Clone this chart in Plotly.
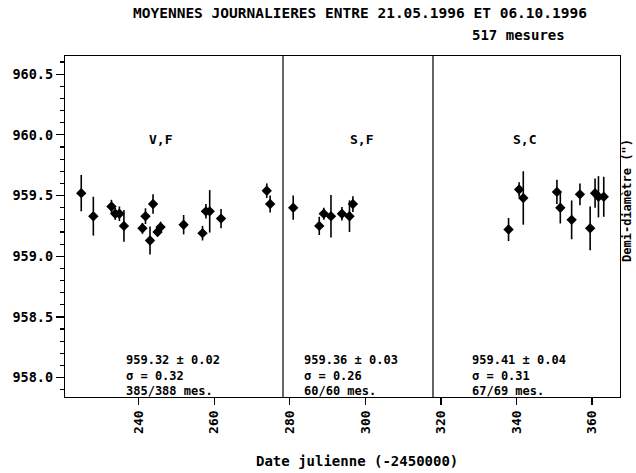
import plotly.graph_objects as go

# Panel V,F
vf_x = [224.8, 228.0, 232.8, 233.8, 234.9, 236.1, 241.0, 241.8, 243.0, 243.8, 245.0, 245.8, 251.9, 256.9, 257.8, 258.8, 261.8, 273.9, 274.8]
vf_y = [959.52, 959.33, 959.41, 959.35, 959.35, 959.25, 959.23, 959.33, 959.13, 959.43, 959.20, 959.24, 959.26, 959.19, 959.37, 959.37, 959.31, 959.54, 959.43]
vf_e = [0.15, 0.16, 0.055, 0.05, 0.06, 0.13, 0.045, 0.065, 0.115, 0.08, 0.03, 0.045, 0.08, 0.06, 0.06, 0.175, 0.08, 0.06, 0.07]
# Panel S,F
sf_x = [280.9, 287.8, 289.0, 290.9, 293.8, 295.8, 296.7]
sf_y = [959.40, 959.25, 959.35, 959.33, 959.35, 959.33, 959.43]
sf_e = [0.10, 0.075, 0.05, 0.175, 0.055, 0.13, 0.065]
# Panel S,C
sc_x = [337.9, 340.7, 341.8, 350.7, 351.6, 354.6, 356.8, 359.5, 360.8, 361.7, 363.1]
sc_y = [959.22, 959.55, 959.48, 959.53, 959.40, 959.30, 959.51, 959.23, 959.52, 959.49, 959.49]
sc_e = [0.095, 0.06, 0.22, 0.10, 0.13, 0.16, 0.09, 0.18, 0.12, 0.17, 0.165]

panel_names = ["V,F", "S,F", "S,C"]
panel_label_x = [246.0, 299.0, 342.0]
panel_label_y = 959.96
panel_stats_x = [236.3, 283.4, 327.9]
panel_stats = [
    ["959.32 \u00b1 0.02", "\u03c3 = 0.32", "385/388 mes."],
    ["959.36 \u00b1 0.03", "\u03c3 = 0.26", "60/60 mes."],
    ["959.41 \u00b1 0.04", "\u03c3 = 0.31", "67/69 mes."],
]
dividers = [278.2, 317.9]
x_ticks = [240, 260, 280, 300, 320, 340, 360]
y_ticks = [958.0, 958.5, 959.0, 959.5, 960.0, 960.5]

title = "MOYENNES JOURNALIERES ENTRE 21.05.1996 ET 06.10.1996"
subtitle = "517 mesures"
x_title = "Date julienne (-2450000)"
y_title = "Demi-diam\u00e8tre (\")"

FONT = "DejaVu Sans Mono"

W, H = 636, 473
L, R, T, B = 61, 16, 56, 76
pw, ph = W - L - R, H - T - B
def px(x):
    return (x - L) / pw
def py(y):
    return (H - B - y) / ph

fig = go.Figure()
for xs, ys, es in [(vf_x, vf_y, vf_e), (sf_x, sf_y, sf_e), (sc_x, sc_y, sc_e)]:
    fig.add_trace(go.Scatter(
        x=xs, y=ys, mode="markers",
        marker=dict(symbol="diamond", size=8, color="black"),
        error_y=dict(type="data", array=es, visible=True, color="black", thickness=1.6, width=0),
        showlegend=False, hoverinfo="skip",
    ))

for d in dividers:
    fig.add_shape(type="line", xref="x", yref="paper", x0=d, x1=d, y0=0, y1=1,
                  line=dict(color="black", width=1.2))

anns = []
for name, lx in zip(panel_names, panel_label_x):
    anns.append(dict(x=lx, y=panel_label_y, xref="x", yref="y", text="<b>" + name + "</b>", showarrow=False,
                     font=dict(family=FONT, size=13, color="black"), xanchor="center", yanchor="middle"))
for sx, lines in zip(panel_stats_x, panel_stats):
    anns.append(dict(x=sx, y=py(375), xref="x", yref="paper",
                     text="<br>".join("<b>" + t + "</b>" for t in lines), showarrow=False, align="left",
                     font=dict(family=FONT, size=12, color="black"), xanchor="left", yanchor="middle",
                     borderpad=0))
anns.append(dict(x=px(358), y=py(13), xref="paper", yref="paper", text="<b>" + title + "</b>",
                 showarrow=False, font=dict(family=FONT, size=14.5, color="black"), xanchor="center", yanchor="middle"))
anns.append(dict(x=px(518), y=py(35), xref="paper", yref="paper", text="<b>" + subtitle + "</b>",
                 showarrow=False, font=dict(family=FONT, size=14, color="black"), xanchor="center", yanchor="middle"))
anns.append(dict(x=px(355), y=py(461), xref="paper", yref="paper", text="<b>" + x_title + "</b>",
                 showarrow=False, font=dict(family=FONT, size=14, color="black"), xanchor="center", yanchor="middle",
                 borderpad=0))
anns.append(dict(x=px(627), y=py(200), xref="paper", yref="paper", text="<b>" + y_title + "</b>",
                 showarrow=False, textangle=-90, font=dict(family=FONT, size=12, color="black"),
                 xanchor="center", yanchor="middle", borderpad=0))

fig.update_layout(
    width=W, height=H,
    margin=dict(l=L, r=R, t=T, b=B, pad=0),
    paper_bgcolor="white", plot_bgcolor="white",
    annotations=anns,
    hovermode=False,
    xaxis=dict(range=[220.5, 367.4], tickvals=x_ticks, ticktext=["<b>%d</b>" % v for v in x_ticks],
               tickangle=-90, ticks="outside", ticklen=7, tickwidth=1.2, tickcolor="black",
               showline=True, linecolor="black", linewidth=1.2, mirror=True, showgrid=False, zeroline=False,
               tickfont=dict(family=FONT, size=13, color="black")),
    yaxis=dict(range=[957.84, 960.65], tickvals=y_ticks, ticktext=["<b>%.1f</b>" % v for v in y_ticks],
               ticks="outside", ticklen=8, tickwidth=1.2, tickcolor="black",
               minor=dict(dtick=0.1, ticks="outside", ticklen=4, tickcolor="black", showgrid=False),
               showline=True, linecolor="black", linewidth=1.2, mirror=True, showgrid=False, zeroline=False,
               tickfont=dict(family=FONT, size=13.5, color="black")),
)
fig.write_html("out.html", config={"displayModeBar": False, "staticPlot": True},
               post_script="document.documentElement.style.margin='0';document.body.style.margin='0';"
                           "document.body.style.padding='0';document.body.style.overflow='hidden';")
